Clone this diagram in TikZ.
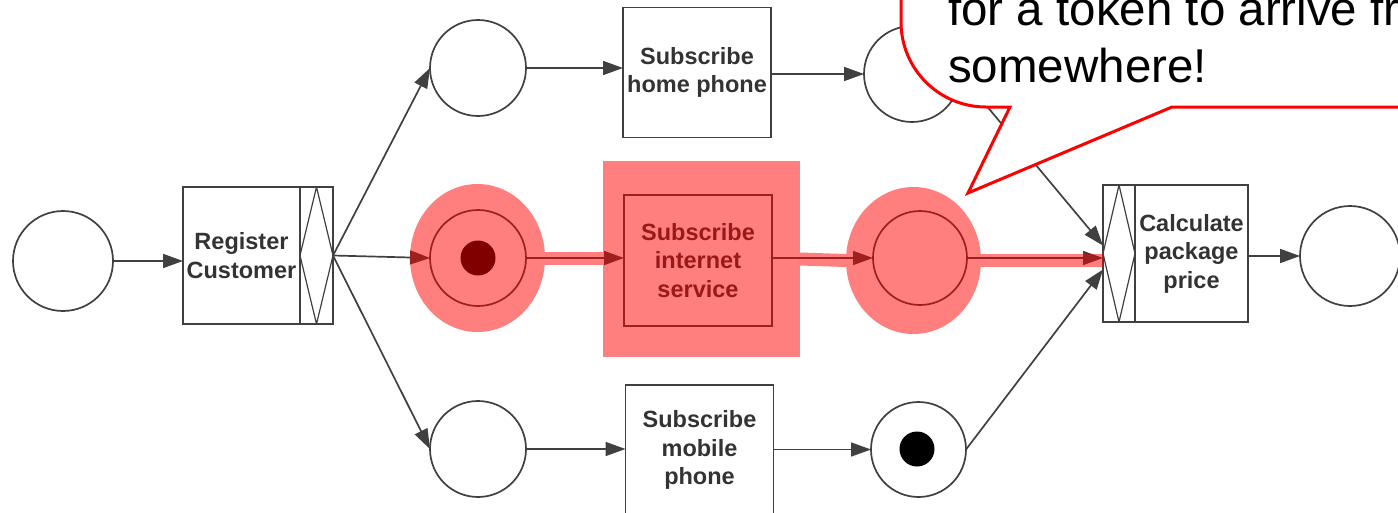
\documentclass[tikz,border=0pt]{standalone}
\usepackage{fontspec}
\setmainfont{Liberation Sans}
\usetikzlibrary{arrows.meta, positioning, calc, shapes.geometric}
\tikzset{%
	place/.style={draw=black!75, line width=1.7pt, circle, minimum size=96pt, inner sep=0pt, outer sep=0pt, fill=white},
	trans/.style={draw=black!75, line width=1.7pt, rectangle, minimum width=148pt, minimum height=130pt,%
		inner sep=0pt, outer sep=0pt, align=center, text=black!80, font=\bfseries\fontsize{23.5}{28.5}\selectfont},
	xorbar/.style={draw=black!75, line width=1.7pt, rectangle, minimum width=33pt, minimum height=137pt,%
		inner sep=0pt, outer sep=0pt, path picture={\draw[black!75, line width=1.2pt]
			(path picture bounding box.north) -- (path picture bounding box.west) --
			(path picture bounding box.south) -- (path picture bounding box.east) -- cycle;}},
	token/.style={circle, fill=black, minimum size=35pt, inner sep=0pt},
	arc/.style={-{Triangle[length=20pt,width=14pt]}, line width=1.7pt, draw=black!75},
	glow/.style={fill=red, fill opacity=0.5, draw=none, inner sep=0pt, outer sep=0pt},
	glowline/.style={draw=red, draw opacity=0.5, line width=13pt},
	callout/.style={draw=red, line width=3pt, fill=white},
	bubbletext/.style={anchor=base west, inner sep=0pt, font=\fontsize{47.5}{57}\selectfont}
}
\begin{document}
\begin{tikzpicture}[x=1pt, y=-1pt]
	\useasboundingbox (0,0) rectangle (1398,512);
	\clip (0,0) rectangle (1398,512);

	\node[place, minimum size=100pt] (start) at (63,261) {};
	\node[trans, minimum width=117pt, minimum height=137pt] (register) at (241.5,255.5) {Register\\Customer};
	\node[xorbar, right=0pt of register] (split) {};

	\node[place] (home0) at (478,68) {};
	\node[place] (net0) at (478,258) {};
	\node[place] (mob0) at (478,449) {};
	\node[trans] (home) at (697,72.5) {Subscribe\\home phone};
	\node[trans, minimum height=131pt] (net) at (698,260.5) {Subscribe\\internet\\service};
	\node[trans] (mob) at (699.5,450) {Subscribe\\mobile\\phone};
	\node[place] (home1) at (912,74) {};
	\node[place, minimum size=94pt] (net1) at (920,258) {};
	\node[place, minimum size=95pt] (mob1) at (918.5,449.5) {};

	\node[xorbar, minimum width=32pt] (join) at (1119,253.5) {};
	\node[trans, minimum width=113pt, minimum height=137pt, right=0pt of join] (calc) {Calculate\\package\\price};
	\node[place, minimum size=100pt] (end) at (1350,256) {};

	\node[token] (tok1) at (net0) {};
	\node[token] (tok2) at (917,449) {};

	\draw[arc] (start.east) -- (start.east -| register.west);
	\draw[arc] (split.east) -- (home0.west);
	\draw[arc] (split.east) -- (net0.west);
	\draw[arc] (split.east) -- (mob0.west);
	\draw[arc] (home0.east) -- (home0.east -| home.west);
	\draw[arc] (net0.east) -- (net0.east -| net.west);
	\draw[arc] (mob0.east) -- (mob0.east -| mob.west);
	\draw[arc] (home.east |- home1.west) -- (home1.west);
	\draw[arc] (net.east |- net1.west) -- (net1.west);
	\draw[arc] (mob.east |- mob1.west) -- (mob1.west);
	\draw[arc] (home1.east) -- ($(join.west)+(0,-8)$);
	\draw[arc] (net1.east) -- (net1.east -| join.west);
	\draw[arc] (mob1.east) -- ($(join.west)+(0,16)$);
	\draw[arc] (calc.east |- end.west) -- (end.west);

	% highlighted path
	\node[glow, ellipse, minimum width=135pt, minimum height=148pt] (hl0) at (477.5,258) {};
	\node[glow, minimum width=197pt, minimum height=196pt] (hlnet) at (701.5,259) {};
	\node[glow, ellipse, minimum width=135pt, minimum height=147pt] (hl1) at (913.5,260.5) {};
	\draw[glowline] (hl0.east) -- (hl0.east -| hlnet.west);
	\draw[glowline] (hlnet.east) -- (hl1.west);
	\draw[glowline] (hl1.east) -- (hl1.east -| join.west);

	% callout
	\coordinate (tip) at (968,193);
	\filldraw[callout] (901,-60) -- (901,22) .. controls (901,69) and (939,107) .. (986,107)
		-- (1010,107) -- (tip) -- (1172,107) -- (1460,107) -- (1460,-60) -- cycle;
	\node[bubbletext] (msg1) at (948,25) {for a token to arrive from};
	\node[bubbletext] (msg2) at (948,82) {somewhere!};
\end{tikzpicture}
\end{document}
